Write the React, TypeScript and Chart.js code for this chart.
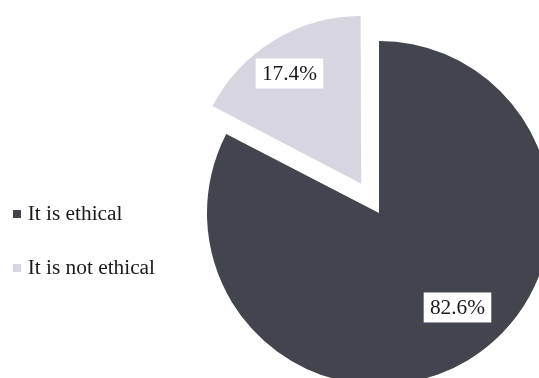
import React, { useEffect, useRef } from 'react';
import { Chart, registerables } from 'chart.js';

Chart.register(...registerables);

const categories = ['It is ethical', 'It is not ethical'];
const values = [82.6, 17.4];
const colors = ['#42454e', '#d7d5e0'];

const FONT = "'Liberation Serif', 'Times New Roman', Times, serif";
const TEXT_COLOR = '#1a1a1a';

export default function App() {
  const ref = useRef<HTMLCanvasElement>(null);

  useEffect(() => {
    const canvas = ref.current;
    if (!canvas) return;

    const markers = colors.map((c) => {
      const m = document.createElement('canvas');
      m.width = 8;
      m.height = 8;
      const g = m.getContext('2d')!;
      g.fillStyle = c;
      g.fillRect(0, 0, 8, 8);
      return m;
    });

    const sliceRadiusScale = [1, 0.953];
    const labelPlacement = [
      { r: 0.714, shift: -8.4 },
      { r: 0.779, shift: -1.8 },
    ];

    const radiusPlugin = {
      id: 'sliceRadius',
      afterDatasetsUpdate(chart: any) {
        const meta = chart.getDatasetMeta(0);
        meta.data.forEach((arc: any, i: number) => {
          arc.outerRadius = arc.outerRadius * sliceRadiusScale[i];
        });
      },
    };

    const labelPlugin = {
      id: 'sliceLabels',
      afterDatasetsDraw(chart: any) {
        const ctx = chart.ctx as CanvasRenderingContext2D;
        const meta = chart.getDatasetMeta(0);
        const total = values.reduce((a, b) => a + b, 0);
        ctx.save();
        ctx.font = `21.33px ${FONT}`;
        ctx.textAlign = 'center';
        ctx.textBaseline = 'middle';
        meta.data.forEach((arc: any, i: number) => {
          const { x, y, startAngle, endAngle, outerRadius, circumference } = arc.getProps(
            ['x', 'y', 'startAngle', 'endAngle', 'outerRadius', 'circumference'],
            true
          );
          const offset = (arc.options.offset || 0) / 4;
          const fix = 1 - Math.sin(Math.min(Math.PI, circumference || 0));
          const dist = offset * (1 + fix);
          const mid = (startAngle + endAngle) / 2;
          const cx = x + Math.cos(mid) * dist;
          const cy = y + Math.sin(mid) * dist;
          const p = labelPlacement[i];
          const a = mid + (p.shift * Math.PI) / 180;
          const lx = cx + Math.cos(a) * outerRadius * p.r;
          const ly = cy + Math.sin(a) * outerRadius * p.r;
          const text = `${((values[i] / total) * 100).toFixed(1)}%`;
          const w = ctx.measureText(text).width + 12.5;
          const h = 30;
          ctx.fillStyle = '#ffffff';
          ctx.fillRect(lx - w / 2, ly - h / 2, w, h);
          ctx.fillStyle = TEXT_COLOR;
          ctx.fillText(text, lx, ly + 1);
        });
        ctx.restore();
      },
    };

    const chart = new Chart(canvas, {
      type: 'pie',
      data: {
        labels: categories,
        datasets: [
          {
            data: values,
            backgroundColor: colors,
            borderWidth: 0,
            offset: [0, 137],
            radius: 172,
            clip: false,
          } as any,
        ],
      },
      options: {
        responsive: false,
        animation: false,
        layout: { padding: 0 },
        plugins: {
          legend: {
            position: 'left',
            align: 'center',
            maxWidth: 175,
            title: {
              display: true,
              text: '',
              padding: 0,
              font: { size: 10, lineHeight: 5.633 },
            },
            labels: {
              usePointStyle: true,
              boxWidth: 0.001,
              boxHeight: 8,
              padding: 33,
              color: TEXT_COLOR,
              font: { family: FONT, size: 21.33 },
              generateLabels: () =>
                categories.map((t, i) => ({
                  text: t,
                  fillStyle: colors[i],
                  strokeStyle: colors[i],
                  lineWidth: 0,
                  pointStyle: markers[i] as any,
                  hidden: false,
                  index: i,
                  fontColor: TEXT_COLOR,
                })),
            },
          } as any,
          tooltip: { enabled: false },
        },
      },
      plugins: [radiusPlugin, labelPlugin],
    });

    return () => {
      chart.destroy();
    };
  }, []);

  return (
    <div
      style={{
        position: 'fixed',
        left: 0,
        top: 0,
        width: 539,
        height: 378,
        overflow: 'hidden',
        background: '#ffffff',
      }}
    >
      <canvas
        ref={ref}
        width={615}
        height={426}
        style={{ position: 'absolute', left: -16, top: 0, width: 615, height: 426 }}
      />
    </div>
  );
}
